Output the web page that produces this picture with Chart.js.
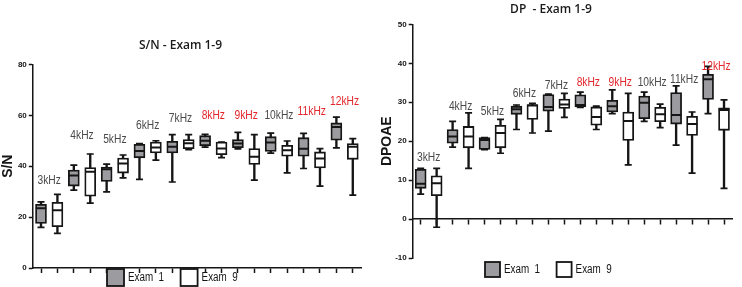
<!DOCTYPE html>
<html>
<head>
<meta charset="utf-8">
<script src="https://cdn.jsdelivr.net/npm/chart.js@4.4.1/dist/chart.umd.min.js"></script>
<style>
html, body { margin: 0; padding: 0; background: #fff; }
#wrap { position: relative; width: 742px; height: 287px; }
.panel { position: absolute; top: 0; height: 287px; }
#snBox { left: 0; width: 370px; }
#dpBox { left: 370px; width: 372px; }
</style>
</head>
<body>
<div id="wrap">
  <div class="panel" id="snBox"><canvas id="snChart"></canvas></div>
  <div class="panel" id="dpBox"><canvas id="dpChart"></canvas></div>
</div>
<script>
const freqs = ['3kHz','4kHz','5kHz','6kHz','7kHz','8kHz','9kHz','10kHz','11kHz','12kHz'];
const exams = ['Exam  1', 'Exam  9'];

// box stats per frequency: [min, q1, median, q3, max]
const snExam1 = [
  [16.0, 17.5, 23.5, 25.0, 26.0],
  [30.6, 32.2, 36.3, 38.5, 40.4],
  [29.9, 34.0, 38.8, 39.7, 40.8],
  [34.8, 43.3, 46.0, 48.6, 48.9],
  [33.8, 45.2, 47.6, 49.8, 52.4],
  [47.5, 48.0, 50.0, 52.0, 52.5],
  [46.8, 47.3, 48.9, 50.5, 53.3],
  [45.1, 45.8, 49.3, 51.6, 53.0],
  [39.1, 43.9, 46.9, 51.2, 52.9],
  [47.2, 50.2, 55.4, 57.0, 59.3]
];
const snExam9 = [
  [13.6, 16.2, 22.7, 25.8, 28.9],
  [25.5, 28.2, 37.8, 39.5, 44.8],
  [35.4, 37.3, 41.1, 43.2, 44.4],
  [42.4, 45.2, 47.3, 49.5, 50.0],
  [46.5, 46.9, 49.0, 50.5, 52.4],
  [43.4, 44.5, 47.0, 49.5, 49.5],
  [34.5, 40.7, 43.7, 46.9, 52.4],
  [37.4, 43.9, 46.3, 48.2, 49.9],
  [32.2, 39.3, 43.0, 45.6, 46.9],
  [28.6, 42.7, 47.6, 48.9, 50.8]
];
const dpExam1 = [
  [6.4, 7.9, 9.1, 12.8, 13.0],
  [18.5, 19.5, 21.2, 23.0, 25.1],
  [17.8, 17.9, 20.3, 20.9, 20.9],
  [23.0, 26.9, 28.2, 29.0, 29.3],
  [22.6, 27.7, 28.8, 32.0, 32.1],
  [28.7, 28.8, 29.3, 31.9, 32.6],
  [27.1, 27.5, 29.0, 30.5, 33.2],
  [25.1, 25.8, 29.9, 31.6, 32.6],
  [19.0, 24.4, 26.7, 32.5, 34.2],
  [27.1, 30.7, 35.9, 37.2, 39.2]
];
const dpExam9 = [
  [-2.1, 6.0, 9.2, 11.1, 13.0],
  [13.0, 18.3, 21.2, 23.8, 27.3],
  [16.9, 18.3, 22.1, 24.1, 25.6],
  [22.1, 25.6, 29.2, 29.4, 29.7],
  [26.1, 28.4, 29.4, 30.8, 32.3],
  [23.0, 24.1, 26.2, 28.8, 29.0],
  [13.9, 20.2, 25.2, 27.5, 32.3],
  [23.5, 25.0, 26.9, 28.7, 29.5],
  [11.8, 21.5, 24.4, 26.4, 27.5],
  [7.9, 22.8, 28.0, 28.6, 30.6]
];

// height of each frequency label, in axis units
const snLabelAt = [34.3, 51.9, 50.3, 56, 58.7, 60, 60, 60, 61.6, 65.3];
const dpLabelAt = [15.7, 29, 27.5, 32.2, 34.2, 35.1, 35.1, 35.1, 35.8, 39.2];
const snRed = ['8kHz','9kHz','11kHz','12kHz'];
const dpRed = ['8kHz','9kHz','12kHz'];

const INK = '#151515';
const GRAY = '#9c9ca0';

// two slots per frequency, one for each exam
const slots = freqs.flatMap(f => [f + ' 1', f + ' 9']);
const spread = (rows, exam, pick) => slots.map((_, i) => (i % 2 === exam) ? pick(rows[i >> 1]) : null);

// no condensed face installed, so squeeze Liberation Sans sideways
const SQUEEZE = 0.82;
function narrowText(ctx, text, x, y) {
  ctx.save();
  ctx.translate(x, y);
  ctx.scale(SQUEEZE, 1);
  ctx.fillText(text, 0, 0);
  ctx.restore();
  return ctx.measureText(text).width * SQUEEZE;
}

function boxSets(rows, exam, fill) {
  const tick = pick => ({
    type: 'line', label: 'cap', data: spread(rows, exam, pick), showLine: false,
    pointStyle: 'line', pointRadius: 3.5, pointBorderWidth: 1.7, pointBorderColor: INK, order: 2
  });
  return [
    {type: 'bar', label: exams[exam], data: spread(rows, exam, r => [r[1], r[3]]),
     backgroundColor: fill, borderColor: INK, borderWidth: 1.8, barThickness: 11,
     grouped: false, borderSkipped: false, order: 1},
    {type: 'bar', label: 'whisker', data: spread(rows, exam, r => [r[0], r[4]]),
     backgroundColor: INK, barThickness: 1.7, grouped: false, borderSkipped: false, order: 3},
    {type: 'line', label: 'median', data: spread(rows, exam, r => r[2]), showLine: false,
     pointStyle: 'line', pointRadius: 5.2, pointBorderWidth: 2, pointBorderColor: INK, order: 0},
    tick(r => r[0]),
    tick(r => r[4])
  ];
}

const freqLabels = {
  id: 'freqLabels',
  afterDatasetsDraw(chart, _, opts) {
    const {ctx, scales: {x, y}} = chart;
    ctx.save();
    ctx.font = '12.5px "Liberation Sans", sans-serif';
    ctx.textAlign = 'center';
    ctx.textBaseline = 'middle';
    freqs.forEach((f, k) => {
      const cx = (x.getPixelForValue(2 * k) + x.getPixelForValue(2 * k + 1)) / 2;
      ctx.fillStyle = opts.red.includes(f) ? '#e3262b' : '#4a4a4a';
      narrowText(ctx, f, cx, y.getPixelForValue(opts.at[k]));
    });
    ctx.restore();
  }
};

const boxLegend = {
  id: 'boxLegend',
  afterDraw(chart, _, opts) {
    const ctx = chart.ctx;
    ctx.save();
    ctx.font = '12px "Liberation Sans", sans-serif';
    ctx.textBaseline = 'middle';
    let x = opts.x;
    [GRAY, '#fff'].forEach((fill, i) => {
      ctx.fillStyle = fill;
      ctx.fillRect(x, opts.y, opts.size, opts.size);
      ctx.strokeStyle = INK;
      ctx.lineWidth = 1.8;
      ctx.strokeRect(x, opts.y, opts.size, opts.size);
      ctx.fillStyle = INK;
      const w = narrowText(ctx, exams[i], x + opts.size + 4, opts.y + opts.size / 2);
      x += opts.size + 4 + w + 16.5;
    });
    ctx.restore();
  }
};

function panel(id, cfg) {
  return new Chart(document.getElementById(id), {
    type: 'bar',
    data: {
      labels: slots,
      datasets: [...boxSets(cfg.exam1, 0, GRAY), ...boxSets(cfg.exam9, 1, '#fff')]
    },
    options: {
      responsive: true,
      maintainAspectRatio: false,
      animation: false,
      events: [],
      layout: {padding: cfg.padding},
      plugins: {
        legend: {display: false},
        tooltip: {enabled: false},
        title: {
          display: true, text: cfg.title, color: '#1a1a1a',
          font: {family: 'Open Sans', size: 12, weight: '600'},
          padding: cfg.titlePad
        },
        freqLabels: {at: cfg.labelAt, red: cfg.red},
        boxLegend: cfg.legend
      },
      scales: {
        x: {
          position: cfg.xPos,
          offset: true,
          grid: {display: true, drawOnChartArea: false, drawTicks: true, tickLength: 5,
                 tickColor: INK, tickWidth: 1.5, offset: false},
          border: {display: true, color: INK, width: 1.5},
          ticks: {display: false}
        },
        y: {
          min: cfg.min, max: cfg.max,
          ticks: {stepSize: cfg.step, color: INK, padding: 2,
                  font: {family: 'Liberation Sans', size: 8, weight: 'bold'}},
          grid: {drawOnChartArea: false, tickLength: 4, tickColor: INK, tickWidth: 1.5},
          border: {color: INK, width: 1.5},
          title: {display: true, text: cfg.yTitle, color: INK,
                  font: {family: 'Liberation Sans', size: 14, weight: 'bold'},
                  padding: {top: cfg.yTitlePad, bottom: 0}},
          afterFit: s => { s.width = cfg.yWidth; }
        }
      }
    },
    plugins: [freqLabels, boxLegend]
  });
}

panel('snChart', {
  exam1: snExam1, exam9: snExam9, title: 'S/N - Exam 1-9', yTitle: 'S/N',
  min: 0, max: 80, step: 20, xPos: 'bottom',
  labelAt: snLabelAt, red: snRed,
  padding: {top: 0, right: 9, bottom: 14, left: 0},
  titlePad: {top: 38, bottom: 12},
  yWidth: 32.8, yTitlePad: 0,
  legend: {x: 107, y: 269, size: 17}
});

panel('dpChart', {
  exam1: dpExam1, exam9: dpExam9, title: 'DP  - Exam 1-9', yTitle: 'DPOAE',
  min: -10, max: 50, step: 10, xPos: {y: 0},
  labelAt: dpLabelAt, red: dpRed,
  padding: {top: 0, right: 10, bottom: 29, left: 0},
  titlePad: {top: 2, bottom: 8},
  yWidth: 42.7, yTitlePad: 8.6,
  legend: {x: 115, y: 262, size: 15}
});
</script>
</body>
</html>
